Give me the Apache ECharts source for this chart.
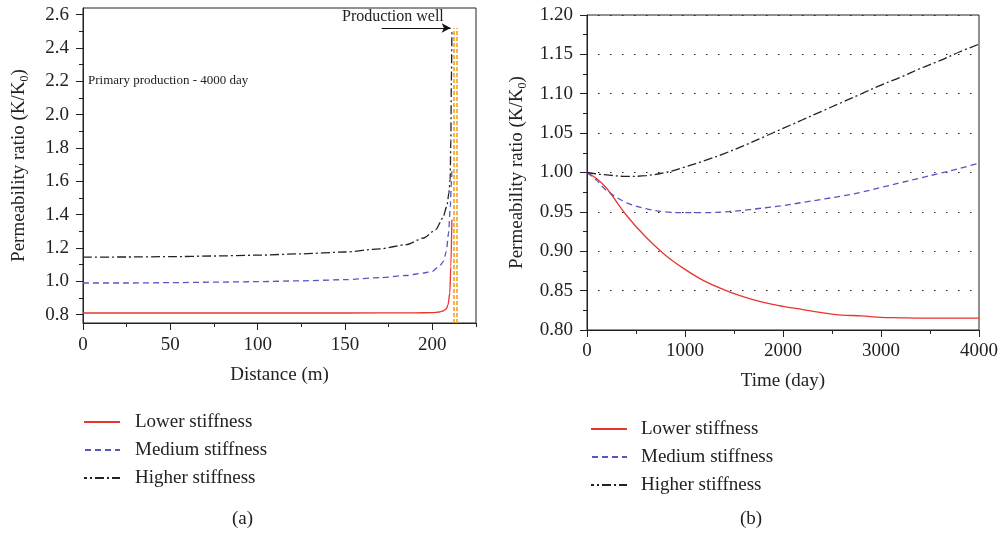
<!DOCTYPE html>
<html>
<head>
<meta charset="utf-8">
<script src="https://cdn.jsdelivr.net/npm/echarts@6/dist/echarts.min.js"></script>
<style>html,body{margin:0;padding:0;background:#fff}#c{width:1002px;height:536px}</style>
</head>
<body>
<div id="c"></div>
<script>
// ---- data: (a) permeability ratio vs distance ----
const lowerX  = [0, 50, 100, 150, 190, 200, 204, 206, 208, 209, 210, 210.6, 211.2];
const lowerY  = [0.81, 0.81, 0.81, 0.81, 0.811, 0.812, 0.816, 0.822, 0.835, 0.86, 0.93, 1.09, 1.37];
const mediumX = [0, 25, 50, 75, 100, 125, 150, 170, 185, 195, 200, 204, 206.4, 208, 209.3, 210.3, 210.8, 211.2];
const mediumY = [0.99, 0.99, 0.992, 0.995, 0.998, 1.003, 1.01, 1.022, 1.035, 1.05, 1.06, 1.09, 1.12, 1.18, 1.29, 1.45, 1.57, 1.66];
const higherX = [0, 25, 50, 75, 100, 125, 150, 170, 185, 195, 202, 206, 208.3, 209.5, 210.2, 210.6, 210.9, 211.2];
const higherY = [1.145, 1.146, 1.148, 1.152, 1.157, 1.165, 1.176, 1.195, 1.22, 1.26, 1.31, 1.38, 1.45, 1.53, 1.61, 1.85, 2.2, 2.51];
const wellX = [212.5, 214.2];
const wellTop = 2.52;
const arrowFrom = [171, 2.52];
const arrowTo = [210.5, 2.52];

// ---- data: (b) permeability ratio vs time ----
const times  = [0, 100, 200, 400, 600, 800, 1000, 1200, 1400, 1600, 1800, 2000, 2200, 2400, 2600, 2800, 3000, 3200, 3400, 3600, 3800, 4000];
const lowerT  = [1.000, 0.992, 0.980, 0.946, 0.918, 0.895, 0.877, 0.862, 0.851, 0.842, 0.835, 0.830, 0.826, 0.822, 0.819, 0.818, 0.816, 0.8155, 0.815, 0.815, 0.815, 0.815];
const mediumT = [1.000, 0.990, 0.977, 0.962, 0.954, 0.950, 0.949, 0.949, 0.950, 0.952, 0.955, 0.958, 0.962, 0.966, 0.970, 0.975, 0.981, 0.987, 0.993, 0.999, 1.005, 1.012];
const higherT = [1.000, 0.998, 0.997, 0.995, 0.996, 1.000, 1.007, 1.015, 1.024, 1.034, 1.045, 1.056, 1.067, 1.078, 1.089, 1.100, 1.111, 1.121, 1.132, 1.142, 1.153, 1.163];

// ---- tick labels ----
const leftYMajor = [0.8, 1.0, 1.2, 1.4, 1.6, 1.8, 2.0, 2.2, 2.4, 2.6];
const leftYMinor = [0.9, 1.1, 1.3, 1.5, 1.7, 1.9, 2.1, 2.3, 2.5];
const leftXMajor = [0, 50, 100, 150, 200];
const leftXMinor = [25, 75, 125, 175, 225];
const names = ['Lower stiffness', 'Medium stiffness', 'Higher stiffness'];

const FONT = 'Liberation Serif';
const RED = '#e8352e', BLUE = '#5656c4', BLACK = '#222222', ORANGE = '#f5a01a';
const styles = [
  {color: RED, type: 'solid'},
  {color: BLUE, type: [6, 4]},
  {color: BLACK, type: [9, 3, 2, 3]}
];
const zip = (xs, ys) => xs.map((x, i) => [x, ys[i]]);
const axisCol = '#222';
const txt = {fontFamily: FONT, fontSize: 19, color: '#222'};
const yName = {
  rich: {
    a: {fontFamily: FONT, fontSize: 19, color: '#222', lineHeight: 24},
    s: {fontFamily: FONT, fontSize: 12, color: '#222', lineHeight: 24, verticalAlign: 'bottom', padding: [8, 0, 0, 0]}
  }
};
const yNameStr = '{a|Permeability ratio (K/K}{s|0}{a|)}';

function lineSeries(i, xi, yi, data, monotone) {
  return {
    name: names[i], type: 'line', xAxisIndex: xi, yAxisIndex: yi,
    data: data, showSymbol: false, symbol: 'none',
    smooth: monotone ? 0.25 : 0.35, smoothMonotone: monotone ? 'x' : undefined,
    lineStyle: {color: styles[i].color, type: styles[i].type, width: 1.3},
    itemStyle: {color: styles[i].color}, z: 3
  };
}

const legendBase = {
  orient: 'vertical', itemWidth: 36, itemHeight: 10, itemGap: 8, padding: 0,
  data: names, selectedMode: false, itemStyle: {opacity: 0}
};

const option = {
  animation: false,
  backgroundColor: '#fff',
  textStyle: {fontFamily: FONT},
  grid: [
    {left: 83, top: 8, width: 393, height: 315, show: true, borderColor: axisCol, borderWidth: 1},
    {left: 587, top: 15, width: 392, height: 315, show: true, borderColor: axisCol, borderWidth: 1}
  ],
  xAxis: [
    {gridIndex: 0, type: 'value', min: 0, max: 225, position: 'bottom',
     axisLine: {show: true, lineStyle: {color: axisCol}},
     axisTick: {show: true, customValues: leftXMajor, length: 7, lineStyle: {color: axisCol}},
     axisLabel: {customValues: leftXMajor, margin: 13, ...txt},
     splitLine: {show: false},
     name: 'Distance (m)', nameLocation: 'middle', nameGap: 43, nameTextStyle: {...txt}},
    {gridIndex: 0, type: 'value', min: 0, max: 225, position: 'bottom',
     axisLine: {show: false}, axisLabel: {show: false}, splitLine: {show: false},
     axisTick: {show: true, customValues: leftXMinor, length: 4, lineStyle: {color: axisCol}}},
    {gridIndex: 1, type: 'value', min: 0, max: 4000, interval: 1000, position: 'bottom',
     axisLine: {show: true, lineStyle: {color: axisCol}},
     axisTick: {show: true, length: 7, lineStyle: {color: axisCol}},
     minorTick: {show: true, splitNumber: 2, length: 4, lineStyle: {color: axisCol}},
     axisLabel: {margin: 12, formatter: v => String(v), ...txt},
     splitLine: {show: false},
     name: 'Time (day)', nameLocation: 'middle', nameGap: 42, nameTextStyle: {...txt}}
  ],
  yAxis: [
    {gridIndex: 0, type: 'value', min: 0.75, max: 2.64, position: 'left',
     axisLine: {show: true, lineStyle: {color: axisCol}},
     axisTick: {show: true, customValues: leftYMajor, length: 7, lineStyle: {color: axisCol}},
     axisLabel: {customValues: leftYMajor, margin: 14, formatter: v => v.toFixed(1), ...txt},
     splitLine: {show: false},
     name: yNameStr, nameLocation: 'middle', nameGap: 52, nameRotate: 90, nameTextStyle: yName},
    {gridIndex: 0, type: 'value', min: 0.75, max: 2.64, position: 'left',
     axisLine: {show: false}, axisLabel: {show: false}, splitLine: {show: false},
     axisTick: {show: true, customValues: leftYMinor, length: 4, lineStyle: {color: axisCol}}},
    {gridIndex: 1, type: 'value', min: 0.8, max: 1.2, interval: 0.05, position: 'left',
     axisLine: {show: true, lineStyle: {color: axisCol}},
     axisTick: {show: true, length: 7, lineStyle: {color: axisCol}},
     minorTick: {show: true, splitNumber: 2, length: 4, lineStyle: {color: axisCol}},
     axisLabel: {margin: 14, formatter: v => v.toFixed(2), ...txt},
     splitLine: {show: true, lineStyle: {color: '#222', type: [1.5, 10.5], dashOffset: -11, width: 1.2}},
     name: yNameStr, nameLocation: 'middle', nameGap: 58, nameRotate: 90, nameTextStyle: yName}
  ],
  legend: [
    {...legendBase, left: 83, top: 412, textStyle: {...txt, lineHeight: 20, padding: [0, 0, 0, 10]}},
    {...legendBase, left: 590, top: 419, textStyle: {...txt, lineHeight: 20, padding: [0, 0, 0, 9]}}
  ],
  graphic: [
    {type: 'text', left: 88, top: 74, style: {text: 'Primary production - 4000 day', font: '13px "Liberation Serif"', fill: '#222'}},
    {type: 'text', left: 342, top: 9, style: {text: 'Production well', font: '16px "Liberation Serif"', fill: '#222'}},
    {type: 'text', left: 232, top: 510, style: {text: '(a)', font: '19px "Liberation Serif"', fill: '#222'}},
    {type: 'text', left: 740, top: 510, style: {text: '(b)', font: '19px "Liberation Serif"', fill: '#222'}}
  ],
  series: [
    lineSeries(0, 0, 0, zip(lowerX, lowerY), true),
    lineSeries(1, 0, 0, zip(mediumX, mediumY), true),
    lineSeries(2, 0, 0, zip(higherX, higherY), true),
    {type: 'line', xAxisIndex: 0, yAxisIndex: 0, data: [], silent: true,
     markLine: {silent: true, animation: false, symbol: 'none', label: {show: false},
       lineStyle: {color: ORANGE, type: [4, 2], width: 1.6},
       data: wellX.map(x => [{coord: [x, 0.75]}, {coord: [x, wellTop]}]).concat([
         [{coord: arrowFrom, symbol: 'none', lineStyle: {color: '#111', type: 'solid', width: 1.2}},
          {coord: arrowTo, symbol: 'arrow', symbolSize: [7, 9]}]
       ])}},
    lineSeries(0, 2, 2, zip(times, lowerT), false),
    lineSeries(1, 2, 2, zip(times, mediumT), false),
    lineSeries(2, 2, 2, zip(times, higherT), false)
  ]
};
const chart = echarts.init(document.getElementById('c'), null, {renderer: 'canvas'});
chart.setOption(option);
</script>
</body>
</html>
